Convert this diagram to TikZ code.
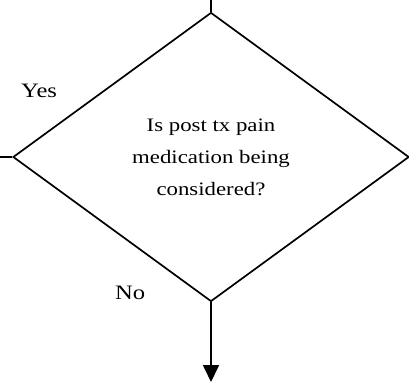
\documentclass[tikz,border=0pt]{standalone}
\usepackage{fontspec}
\setmainfont{Liberation Serif}[FakeStretch=1.2]
\usetikzlibrary{positioning,arrows.meta,shapes.geometric}
\tikzset{
  decnode/.style={draw, diamond, line width=1.7pt, inner sep=0pt,
                  minimum width=396pt, minimum height=289pt, align=center,
                  font=\fontsize{19}{32}\selectfont},
  lblnode/.style={font=\fontsize{20.5}{24}\selectfont, inner sep=0pt},
  flowline/.style={line width=1.7pt},
  flowarrow/.style={flowline, -{Triangle[length=17pt,width=16pt]}},
}
\begin{document}
\begin{tikzpicture}[x=1pt,y=-1pt]
\useasboundingbox (0,0) rectangle (409,382);
%% Decision
\node[decnode] (pain) at (211,157) {Is post tx pain\\medication being\\considered?};

%% Free ends
\coordinate (inTop) at (211,0);
\coordinate (outYes) at (0,157);
\coordinate (outNo) at (211,382);

%% Connectors
\draw[flowline] (inTop) -- (pain.north);
\draw[flowline] (pain.west) -- (outYes);
\draw[flowarrow] (pain.south) -- (outNo);

%% Branch labels
\node[lblnode, anchor=base west] (yes) at (21,98) {Yes};
\node[lblnode, anchor=base west] (no) at (115,299) {No};
\end{tikzpicture}
\end{document}
